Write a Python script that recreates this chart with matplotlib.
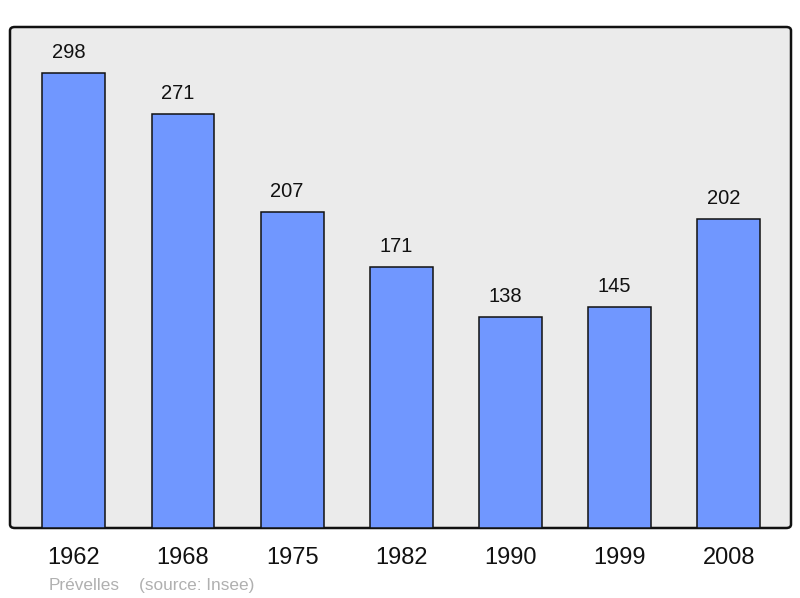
import matplotlib
matplotlib.use("Agg")
import matplotlib.pyplot as plt
from matplotlib.patches import FancyBboxPatch

years = ["1962", "1968", "1975", "1982", "1990", "1999", "2008"]
population = [298, 271, 207, 171, 138, 145, 202]
commune = "Prévelles"
source = "(source: Insee)"

plt.rcParams['font.family'] = ['Liberation Sans', 'DejaVu Sans']

fig = plt.figure(figsize=(8, 5.98), dpi=100)
L, R, B, T = 10/800, 791/800, 1-528/598, 1-27/598
ax = fig.add_axes([L, B, R-L, T-B])
ax.set_facecolor('none')
frame = FancyBboxPatch((L, B), R-L, T-B, boxstyle="round,pad=0,rounding_size=0.006",
                       transform=fig.transFigure, facecolor='#ebebeb', edgecolor='#111111',
                       linewidth=1.8, zorder=-5)
fig.patches.append(frame)

x = list(range(len(years)))
ax.bar(x, population, width=0.575, color='#7097ff', edgecolor='#111111', linewidth=1.1, zorder=2)
for xi, v in zip(x, population):
    ax.annotate(str(v), (xi, v), xytext=(-5, 11), textcoords='offset pixels',
                ha='center', va='bottom', fontsize=14.5, color='#111111')
ax.set_xlim(-0.585, 6.57)
ax.set_ylim(0, 328)
for s in ax.spines.values():
    s.set_visible(False)
ax.set_yticks([])
ax.set_xticks(x)
ax.set_xticklabels(years, fontsize=17, color='#111111')
ax.tick_params(axis='x', length=0, pad=14)

fig.text(49/800, 1-585.5/598, commune, fontsize=12.4, color='#b0b0b0', ha='left', va='center')
fig.text(139/800, 1-585.5/598, source, fontsize=12.4, color='#b0b0b0', ha='left', va='center')

fig.savefig("out.png", dpi=100)
